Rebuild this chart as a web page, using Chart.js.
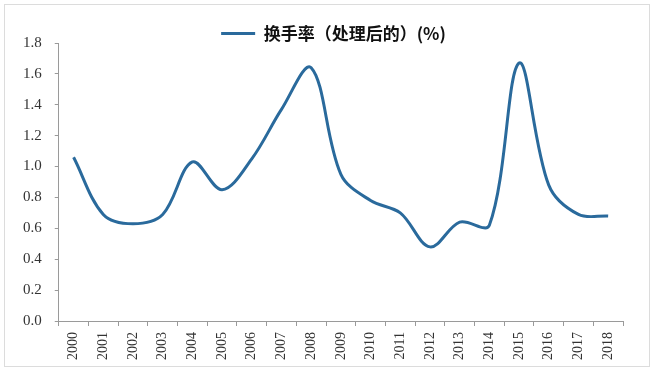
<!DOCTYPE html>
<html>
<head>
<meta charset="utf-8">
<script src="https://cdn.jsdelivr.net/npm/chart.js@4"></script>
<style>
  html, body { margin: 0; padding: 0; background: #fff; }
  #wrap { position: relative; width: 655px; height: 372px; }
  #frame { position: absolute; left: 4px; top: 4px; width: 646px; height: 363px;
           border: 1px solid #dcdcdc; box-sizing: border-box; pointer-events: none; }
</style>
</head>
<body>
<div id="wrap">
  <canvas id="myChart" width="655" height="372"></canvas>
  <div id="frame"></div>
</div>
<script>
const years = ['2000', '2001', '2002', '2003', '2004', '2005', '2006', '2007', '2008', '2009',
               '2010', '2011', '2012', '2013', '2014', '2015', '2016', '2017', '2018'];
const turnover = [1.06, 0.69, 0.63, 0.69, 1.03, 0.85, 1.05, 1.37, 1.64, 0.95,
                  0.78, 0.70, 0.48, 0.64, 0.62, 1.67, 0.88, 0.69, 0.68];
const seriesName = '换手率（处理后的）(%)';
const yMin = 0;
const yMax = 1.8;
const yStep = 0.2;

// legend sits lower than chart.js would put it, and overlaps the top tick row
const legendShift = {
  id: 'legendShift',
  beforeLayout(chart) {
    const lg = chart.legend;
    if (lg && !lg._shifted) {
      const fit = lg.fit;
      lg.fit = function () {
        fit.call(this);
        this.height = 43;
      };
      lg._shifted = true;
    }
  },
  afterLayout(chart) {
    const lg = chart.legend;
    if (lg) {
      lg.left += 17;
      lg.right += 17;
      // legend clips to its own box, give the text room below
      lg.height = 60;
      lg.bottom = lg.top + 60;
    }
  }
};

function renderChart() {
  const ctx = document.getElementById('myChart');

  new Chart(ctx, {
    type: 'line',
    data: {
      labels: years,
      datasets: [{
        label: seriesName,
        data: turnover,
        borderColor: '#2a6a9c',
        backgroundColor: '#2a6a9c',
        borderWidth: 3,
        pointRadius: 0,
        tension: 0.35,
        fill: false
      }]
    },
    options: {
      responsive: false,
      animation: false,
      layout: {
        padding: { left: 10, right: 32, top: 0, bottom: 6 }
      },
      plugins: {
        tooltip: { enabled: false },
        legend: {
          position: 'top',
          labels: {
            usePointStyle: true,
            pointStyle: 'line',
            pointStyleWidth: 34,
            padding: 25,
            color: '#111',
            font: { family: '"Noto Sans CJK SC", sans-serif', size: 17, weight: 'bold' }
          }
        }
      },
      scales: {
        x: {
          offset: true,
          grid: {
            offset: true,
            drawOnChartArea: false,
            drawTicks: true,
            tickLength: 5,
            color: '#9a9a9a'
          },
          border: { display: true, color: '#9a9a9a', width: 1 },
          ticks: {
            minRotation: 90,
            maxRotation: 90,
            autoSkip: false,
            padding: 6,
            color: '#333',
            font: { family: '"Liberation Serif", serif', size: 14 }
          }
        },
        y: {
          min: yMin,
          max: yMax,
          grid: {
            drawOnChartArea: false,
            drawTicks: true,
            tickLength: 4,
            color: '#9a9a9a'
          },
          border: { display: true, color: '#9a9a9a', width: 1 },
          ticks: {
            stepSize: yStep,
            padding: 13,
            color: '#333',
            font: { family: '"Liberation Serif", serif', size: 15 },
            callback: (v) => Number(v).toFixed(1)
          }
        }
      }
    },
    plugins: [legendShift]
  });
}

renderChart();
</script>
</body>
</html>
